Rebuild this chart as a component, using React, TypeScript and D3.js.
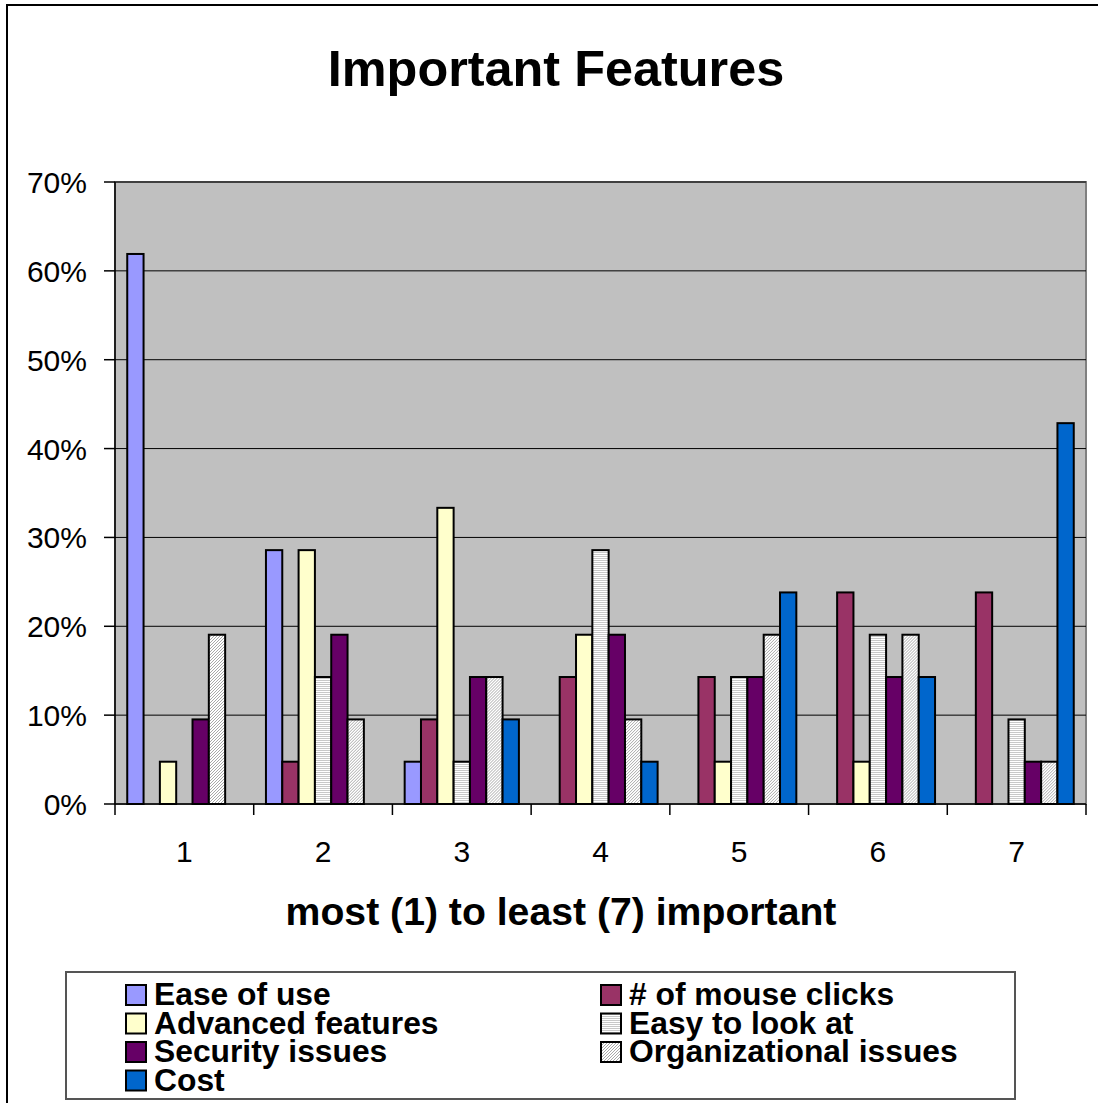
import React from "react";
import * as d3 from "d3";

const categories = ["1", "2", "3", "4", "5", "6", "7"];
const seriesNames = [
  "Ease of use",
  "# of mouse clicks",
  "Advanced features",
  "Easy to look at",
  "Security issues",
  "Organizational issues",
  "Cost",
];
// percent of respondents, per rank 1..7
const easeOfUse = [61.9, 28.57, 4.76, 0, 0, 0, 0];
const mouseClicks = [0, 4.76, 9.52, 14.29, 14.29, 23.81, 23.81];
const advancedFeatures = [4.76, 28.57, 33.33, 19.05, 4.76, 4.76, 0];
const easyToLookAt = [0, 14.29, 4.76, 28.57, 14.29, 19.05, 9.52];
const securityIssues = [9.52, 19.05, 14.29, 19.05, 14.29, 14.29, 4.76];
const organizationalIssues = [19.05, 9.52, 14.29, 9.52, 19.05, 19.05, 4.76];
const cost = [0, 0, 9.52, 4.76, 23.81, 14.29, 42.86];
const seriesValues = [easeOfUse, mouseClicks, advancedFeatures, easyToLookAt, securityIssues, organizationalIssues, cost];
const yTicks = [0, 10, 20, 30, 40, 50, 60, 70];

const fills = ["#9999FF", "#993366", "#FFFFCC", "url(#stripes)", "#660066", "url(#hatch)", "#0066CC"];

const font = "'Liberation Sans', Arial, sans-serif";

export default function App() {
  const left = 115, right = 1086, top = 182, bottom = 804;

  const x0 = d3.scaleBand<string>().domain(categories).range([left, right]);
  const bw = x0.bandwidth();
  const w = bw / 8.5;
  const x1 = d3.scaleBand<number>().domain(d3.range(seriesNames.length)).range([0.75 * w, bw - 0.75 * w]);
  const y = d3.scaleLinear().domain([0, 70]).range([bottom, top]);

  return (
    <svg width={1098} height={1103} style={{ position: "absolute", left: 0, top: 0, background: "#fff" }}>
      <defs>
        <pattern id="stripes" patternUnits="userSpaceOnUse" width={4} height={2}>
          <rect width={4} height={2} fill="#ffffff" />
          <rect width={4} height={1} fill="#c8c8c8" />
        </pattern>
        <pattern id="hatch" patternUnits="userSpaceOnUse" width={3} height={3}>
          <rect width={3} height={3} fill="#ffffff" />
          <rect x={2} y={0} width={1} height={1} fill="#a8a8a8" />
          <rect x={1} y={1} width={1} height={1} fill="#a8a8a8" />
          <rect x={0} y={2} width={1} height={1} fill="#a8a8a8" />
        </pattern>
      </defs>

      {/* outer chart border (top/left visible) */}
      <rect x={7} y={5} width={1200} height={1200} fill="none" stroke="#000" strokeWidth={2} />

      <text x={556} y={86} textAnchor="middle" fontFamily={font} fontWeight="bold" fontSize={50.4}>
        Important Features
      </text>

      {/* plot area */}
      <rect x={left} y={top} width={right - left} height={bottom - top} fill="#C0C0C0" stroke="#808080" strokeWidth={2} />
      {yTicks.slice(1).map((t) => (
        <line key={t} x1={left} x2={right} y1={y(t)} y2={y(t)} stroke="#000" strokeWidth={1} />
      ))}

      {/* bars */}
      {categories.map((c, ci) => (
        <g key={c} transform={`translate(${x0(c)},0)`}>
          {seriesValues.map((vals, si) =>
            vals[ci] > 0 ? (
              <rect
                key={si}
                x={x1(si)}
                y={y(vals[ci])}
                width={x1.bandwidth()}
                height={y(0) - y(vals[ci])}
                fill={fills[si]}
                stroke="#000"
                strokeWidth={2}
              />
            ) : null
          )}
        </g>
      ))}

      {/* axes */}
      <line x1={left} x2={left} y1={top} y2={bottom} stroke="#000" strokeWidth={1.5} />
      <line x1={left} x2={right} y1={bottom} y2={bottom} stroke="#000" strokeWidth={1.5} />
      {yTicks.map((t) => (
        <g key={t}>
          <line x1={left - 11} x2={left} y1={y(t)} y2={y(t)} stroke="#000" strokeWidth={1.5} />
          <text x={87} y={y(t) + 11} textAnchor="end" fontFamily={font} fontSize={30}>
            {t}%
          </text>
        </g>
      ))}
      {categories.map((c) => (
        <line key={c} x1={x0(c)!} x2={x0(c)!} y1={bottom} y2={bottom + 11} stroke="#000" strokeWidth={1.5} />
      ))}
      <line x1={right} x2={right} y1={bottom} y2={bottom + 11} stroke="#000" strokeWidth={1.5} />
      {categories.map((c) => (
        <text key={c} x={x0(c)! + bw / 2} y={862} textAnchor="middle" fontFamily={font} fontSize={30}>
          {c}
        </text>
      ))}

      <text x={561} y={925} textAnchor="middle" fontFamily={font} fontWeight="bold" fontSize={39.2}>
        most (1) to least (7) important
      </text>

      {/* legend */}
      <rect x={66} y={972} width={949} height={127} fill="#fff" stroke="#555" strokeWidth={2} />
      {seriesNames.map((name, i) => {
        const col = i % 2;
        const row = Math.floor(i / 2);
        const sx = col === 0 ? 126 : 601;
        const by = 1005 + row * 28.5;
        return (
          <g key={name}>
            <rect x={sx} y={by - 20} width={20} height={20} fill={fills[i]} stroke="#000" strokeWidth={2} />
            <text x={sx + 28} y={by} fontFamily={font} fontWeight="bold" fontSize={31.8}>
              {name}
            </text>
          </g>
        );
      })}
    </svg>
  );
}
